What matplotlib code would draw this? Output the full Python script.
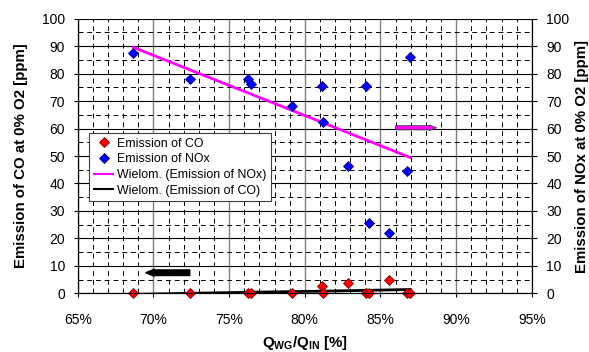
import matplotlib
matplotlib.use("agg")
from matplotlib import pyplot as plt
from matplotlib.ticker import MultipleLocator, FuncFormatter
from matplotlib.lines import Line2D

# flow ratio Q_WG/Q_IN [%] and measured emissions
qwg = [68.67, 72.42, 76.27, 76.45, 79.15, 81.12, 81.18, 82.87, 84.02, 84.26, 85.56, 86.73, 86.95]
co = [0, 0, 0, 0, 0, 2.8, 0, 3.6, 0, 0, 4.8, 0, 0]
nox = [87.6, 77.9, 77.9, 76.1, 68.2, 75.6, 62.5, 46.4, 75.5, 25.5, 22.1, 44.6, 86.0]

# trendlines (Excel "Wielom.")
trend_nox_x = [68.67, 77.8, 86.95]
trend_nox_y = [89.6, 69.6, 49.5]
trend_co_x = [68.67, 72.42, 76.45, 81.18, 84.26, 86.95]
trend_co_y = [-0.4, 0.0, 0.4, 0.8, 1.1, 1.4]

labels = ["Emission of CO", "Emission of NOx",
          "Wielom. (Emission of NOx)", "Wielom. (Emission of CO)"]

plt.rcParams['font.family'] = ['Liberation Sans', 'DejaVu Sans']
plt.rcParams['mathtext.fontset'] = 'custom'
plt.rcParams['mathtext.rm'] = 'Liberation Sans'
plt.rcParams['mathtext.bf'] = 'Liberation Sans:bold'

fig = plt.figure(figsize=(5.89, 3.52), dpi=100)
ax = fig.add_axes([0.132, 0.1667, 0.771, 0.78])

ax.set_xlim(65, 95)
ax.set_ylim(0, 100)
ax.xaxis.set_major_locator(MultipleLocator(5))
ax.xaxis.set_minor_locator(MultipleLocator(1))
ax.yaxis.set_major_locator(MultipleLocator(10))
ax.yaxis.set_minor_locator(MultipleLocator(5))
ax.xaxis.set_major_formatter(FuncFormatter(lambda v, p: f"{v:.0f}%"))

# grid like excel: solid majors, dashed minors
ax.xaxis.grid(True, which='major', color='#808080', lw=1.0, ls='-')
ax.yaxis.grid(True, which='major', color='black', lw=0.8, ls='-')
ax.xaxis.grid(True, which='minor', color='black', lw=0.7, ls=(0, (5, 4)))
ax.yaxis.grid(True, which='minor', color='black', lw=0.7, ls=(0, (5, 4)))
ax.set_axisbelow(True)

ax.tick_params(axis='y', which='major', direction='out', length=3, width=0.8, labelsize=10, pad=6)
ax.tick_params(axis='x', which='major', direction='out', length=3, width=0.8, labelsize=10, pad=11)
ax.tick_params(which='minor', length=0)
for s in ax.spines.values():
    s.set_color('black')
    s.set_linewidth(0.8)
ax.spines['top'].set_visible(False)

ax.plot(trend_co_x, trend_co_y, color='black', lw=2, zorder=3)
ax.plot(trend_nox_x, trend_nox_y, color='#FF00FF', lw=2, zorder=3)
ax.plot(qwg, co, 'D', ms=5, mfc='#FF0000', mec='#800000', mew=0.6, ls='none',
        clip_on=False, zorder=4)
ax.plot(qwg, nox, 'D', ms=5, mfc='#0000FF', mec='#000080', mew=0.6, ls='none',
        clip_on=False, zorder=4)

# arrows showing which axis each series belongs to
ax.annotate('', xy=(69.5, 7.5), xytext=(72.4, 7.5),
            arrowprops=dict(arrowstyle='simple,head_length=0.6,head_width=0.5,tail_width=0.4',
                            fc='black', ec='black', shrinkA=0, shrinkB=0), zorder=5)
ax.annotate('', xy=(88.7, 60.3), xytext=(86.0, 60.3),
            arrowprops=dict(arrowstyle='simple,head_length=0.5,head_width=0.4,tail_width=0.3',
                            fc='#FF00FF', ec='#404040', lw=0.6, shrinkA=0, shrinkB=0), zorder=5)

ax.set_ylabel("Emission of CO at 0% O2 [ppm]", fontsize=10.8, fontweight='bold', labelpad=10)
ax.set_xlabel(r"$\mathbf{Q_{WG}/Q_{IN}}$ [%]", fontsize=10.8, fontweight='bold', labelpad=5)

ax2 = ax.twinx()
ax2.set_ylim(0, 100)
ax2.yaxis.set_major_locator(MultipleLocator(10))
ax2.tick_params(direction='out', length=3.5, width=0.8, labelsize=10, pad=7)
for s in ax2.spines.values():
    s.set_color('black')
    s.set_linewidth(0.8)
ax2.spines['top'].set_visible(False)
ax2.set_ylabel("Emission of NOx at 0% O2 [ppm]", fontsize=10.8, fontweight='bold',
               rotation=90, labelpad=4)

handles = [
    Line2D([], [], marker='D', ms=5, mfc='#FF0000', mec='#800000', mew=0.6, ls='none'),
    Line2D([], [], marker='D', ms=5, mfc='#0000FF', mec='#000080', mew=0.6, ls='none'),
    Line2D([], [], color='#FF00FF', lw=1.5),
    Line2D([], [], color='black', lw=1.5),
]
leg = ax2.legend(handles, labels, loc='upper left', bbox_to_anchor=(0.0255, 0.583),
                 borderaxespad=0, fontsize=8.9, fancybox=False, framealpha=1,
                 edgecolor='#404040', handlelength=1.6, handletextpad=0.3,
                 labelspacing=0.3, borderpad=0.35)
leg.get_frame().set_linewidth(0.8)

fig.savefig("out.png", dpi=100)
